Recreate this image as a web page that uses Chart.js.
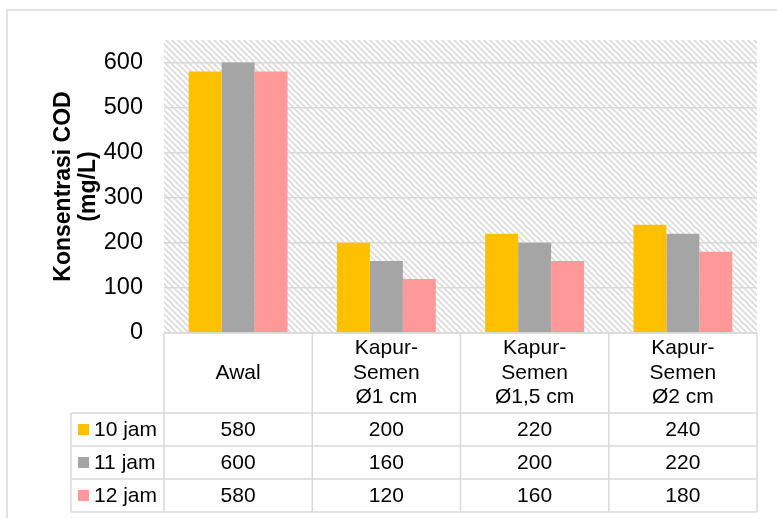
<!DOCTYPE html>
<html>
<head>
<meta charset="utf-8">
<script src="https://cdn.jsdelivr.net/npm/chart.js@4"></script>
<style>
  html, body { margin: 0; padding: 0; background: #fff; }
</style>
</head>
<body>
<canvas id="codChart" width="777" height="518"></canvas>
<script>
// data
const categories = [['Awal'], ['Kapur-', 'Semen', 'Ø1 cm'], ['Kapur-', 'Semen', 'Ø1,5 cm'], ['Kapur-', 'Semen', 'Ø2 cm']];
const seriesNames = ['10 jam', '11 jam', '12 jam'];
const jam10 = [580, 200, 220, 240];
const jam11 = [600, 160, 200, 220];
const jam12 = [580, 120, 160, 180];
const yTicks = [0, 100, 200, 300, 400, 500, 600];

const colors = ['#FFC000', '#A5A5A5', '#FF9999'];
const seriesValues = [jam10, jam11, jam12];
const FONT = "'Liberation Sans', Arial, sans-serif";
const LINE = '#D9D9D9';

function hatchPattern(ctx) {
	const c = document.createElement('canvas');
	c.width = 6; c.height = 6;
	const p = c.getContext('2d');
	p.fillStyle = '#fff';
	p.fillRect(0, 0, 6, 6);
	p.strokeStyle = '#DADADA';
	p.lineWidth = 1.6;
	p.beginPath();
	p.moveTo(-3, -3); p.lineTo(9, 9);
	p.moveTo(-3, 3); p.lineTo(3, 9);
	p.moveTo(3, -3); p.lineTo(9, 3);
	p.stroke();
	return ctx.createPattern(c, 'repeat');
}

// background border + hatched plot area, and the data table under the plot
const tablePlugin = {
	id: 'dataTable',
	beforeDraw(chart) {
		const {ctx, chartArea} = chart;
		ctx.save();
		ctx.fillStyle = '#fff';
		ctx.fillRect(0, 0, chart.width, chart.height);
		ctx.strokeStyle = LINE;
		ctx.lineWidth = 1.5;
		ctx.strokeRect(7, 10, 820, 560);
		ctx.fillStyle = hatchPattern(ctx);
		ctx.fillRect(chartArea.left, chartArea.top, chartArea.right - chartArea.left, chartArea.bottom - chartArea.top);
		ctx.restore();
	},
	afterDraw(chart) {
		const {ctx, chartArea} = chart;
		const x = chart.scales.x;
		const n = categories.length;
		const colW = (x.right - x.left) / n;
		const top = chartArea.bottom;
		const headH = 80;
		const rowH = 33;
		const legendLeft = 71;
		const bottom = top + headH + rowH * seriesNames.length;

		ctx.save();
		ctx.strokeStyle = LINE;
		ctx.lineWidth = 1.5;
		ctx.beginPath();
		ctx.moveTo(x.left, top); ctx.lineTo(x.right, top);
		for (let r = 0; r <= seriesNames.length; r++) {
			const y = top + headH + r * rowH;
			ctx.moveTo(legendLeft, y); ctx.lineTo(x.right, y);
		}
		for (let i = 0; i <= n; i++) {
			const xx = x.left + i * colW;
			ctx.moveTo(xx, top); ctx.lineTo(xx, bottom);
		}
		ctx.moveTo(legendLeft, top + headH); ctx.lineTo(legendLeft, bottom);
		ctx.stroke();

		ctx.fillStyle = '#000';
		ctx.font = '21px ' + FONT;
		ctx.textAlign = 'center';
		ctx.textBaseline = 'middle';
		categories.forEach((lines, i) => {
			const cx = x.getPixelForValue(i);
			const lh = 24.5;
			const y0 = top + headH / 2 - (lines.length - 1) * lh / 2;
			lines.forEach((t, k) => ctx.fillText(t, cx, y0 + k * lh));
		});

		seriesNames.forEach((name, r) => {
			const cy = top + headH + r * rowH + rowH / 2;
			ctx.fillStyle = colors[r];
			ctx.fillRect(78, cy - 5.5, 11, 11);
			ctx.fillStyle = '#000';
			ctx.textAlign = 'left';
			ctx.fillText(name, 94, cy + 1);
			ctx.textAlign = 'center';
			seriesValues[r].forEach((v, i) => {
				ctx.fillText(String(v), x.getPixelForValue(i), cy + 1);
			});
		});
		ctx.restore();
	}
};

const ctx = document.getElementById('codChart').getContext('2d');
const codChart = new Chart(ctx, {
	type: 'bar',
	data: {
		labels: categories.map(c => c.join(' ')),
		datasets: seriesNames.map((name, i) => ({
			label: name,
			data: seriesValues[i],
			backgroundColor: colors[i],
			borderWidth: 0,
			categoryPercentage: 0.667,
			barPercentage: 1
		}))
	},
	options: {
		responsive: false,
		animation: false,
		devicePixelRatio: 1,
		layout: { padding: { left: 0, top: 40, right: 20, bottom: 185 } },
		plugins: {
			legend: { display: false },
			tooltip: { enabled: false }
		},
		scales: {
			x: { display: false },
			y: {
				min: 0,
				max: 650,
				afterBuildTicks: s => { s.ticks = yTicks.map(v => ({ value: v })); },
				afterFit: s => { s.width = 164; },
				ticks: { color: '#000', padding: 21, font: { family: FONT, size: 23.5 } },
				grid: { color: LINE, lineWidth: 1.5, drawTicks: false },
				border: { display: false },
				title: {
					display: true,
					text: ['Konsentrasi COD', '(mg/L)'],
					color: '#000',
					font: { family: FONT, size: 23, weight: 'bold', lineHeight: 1.1 },
					padding: { top: 51, bottom: 0 }
				}
			}
		}
	},
	plugins: [tablePlugin]
});
</script>
</body>
</html>
